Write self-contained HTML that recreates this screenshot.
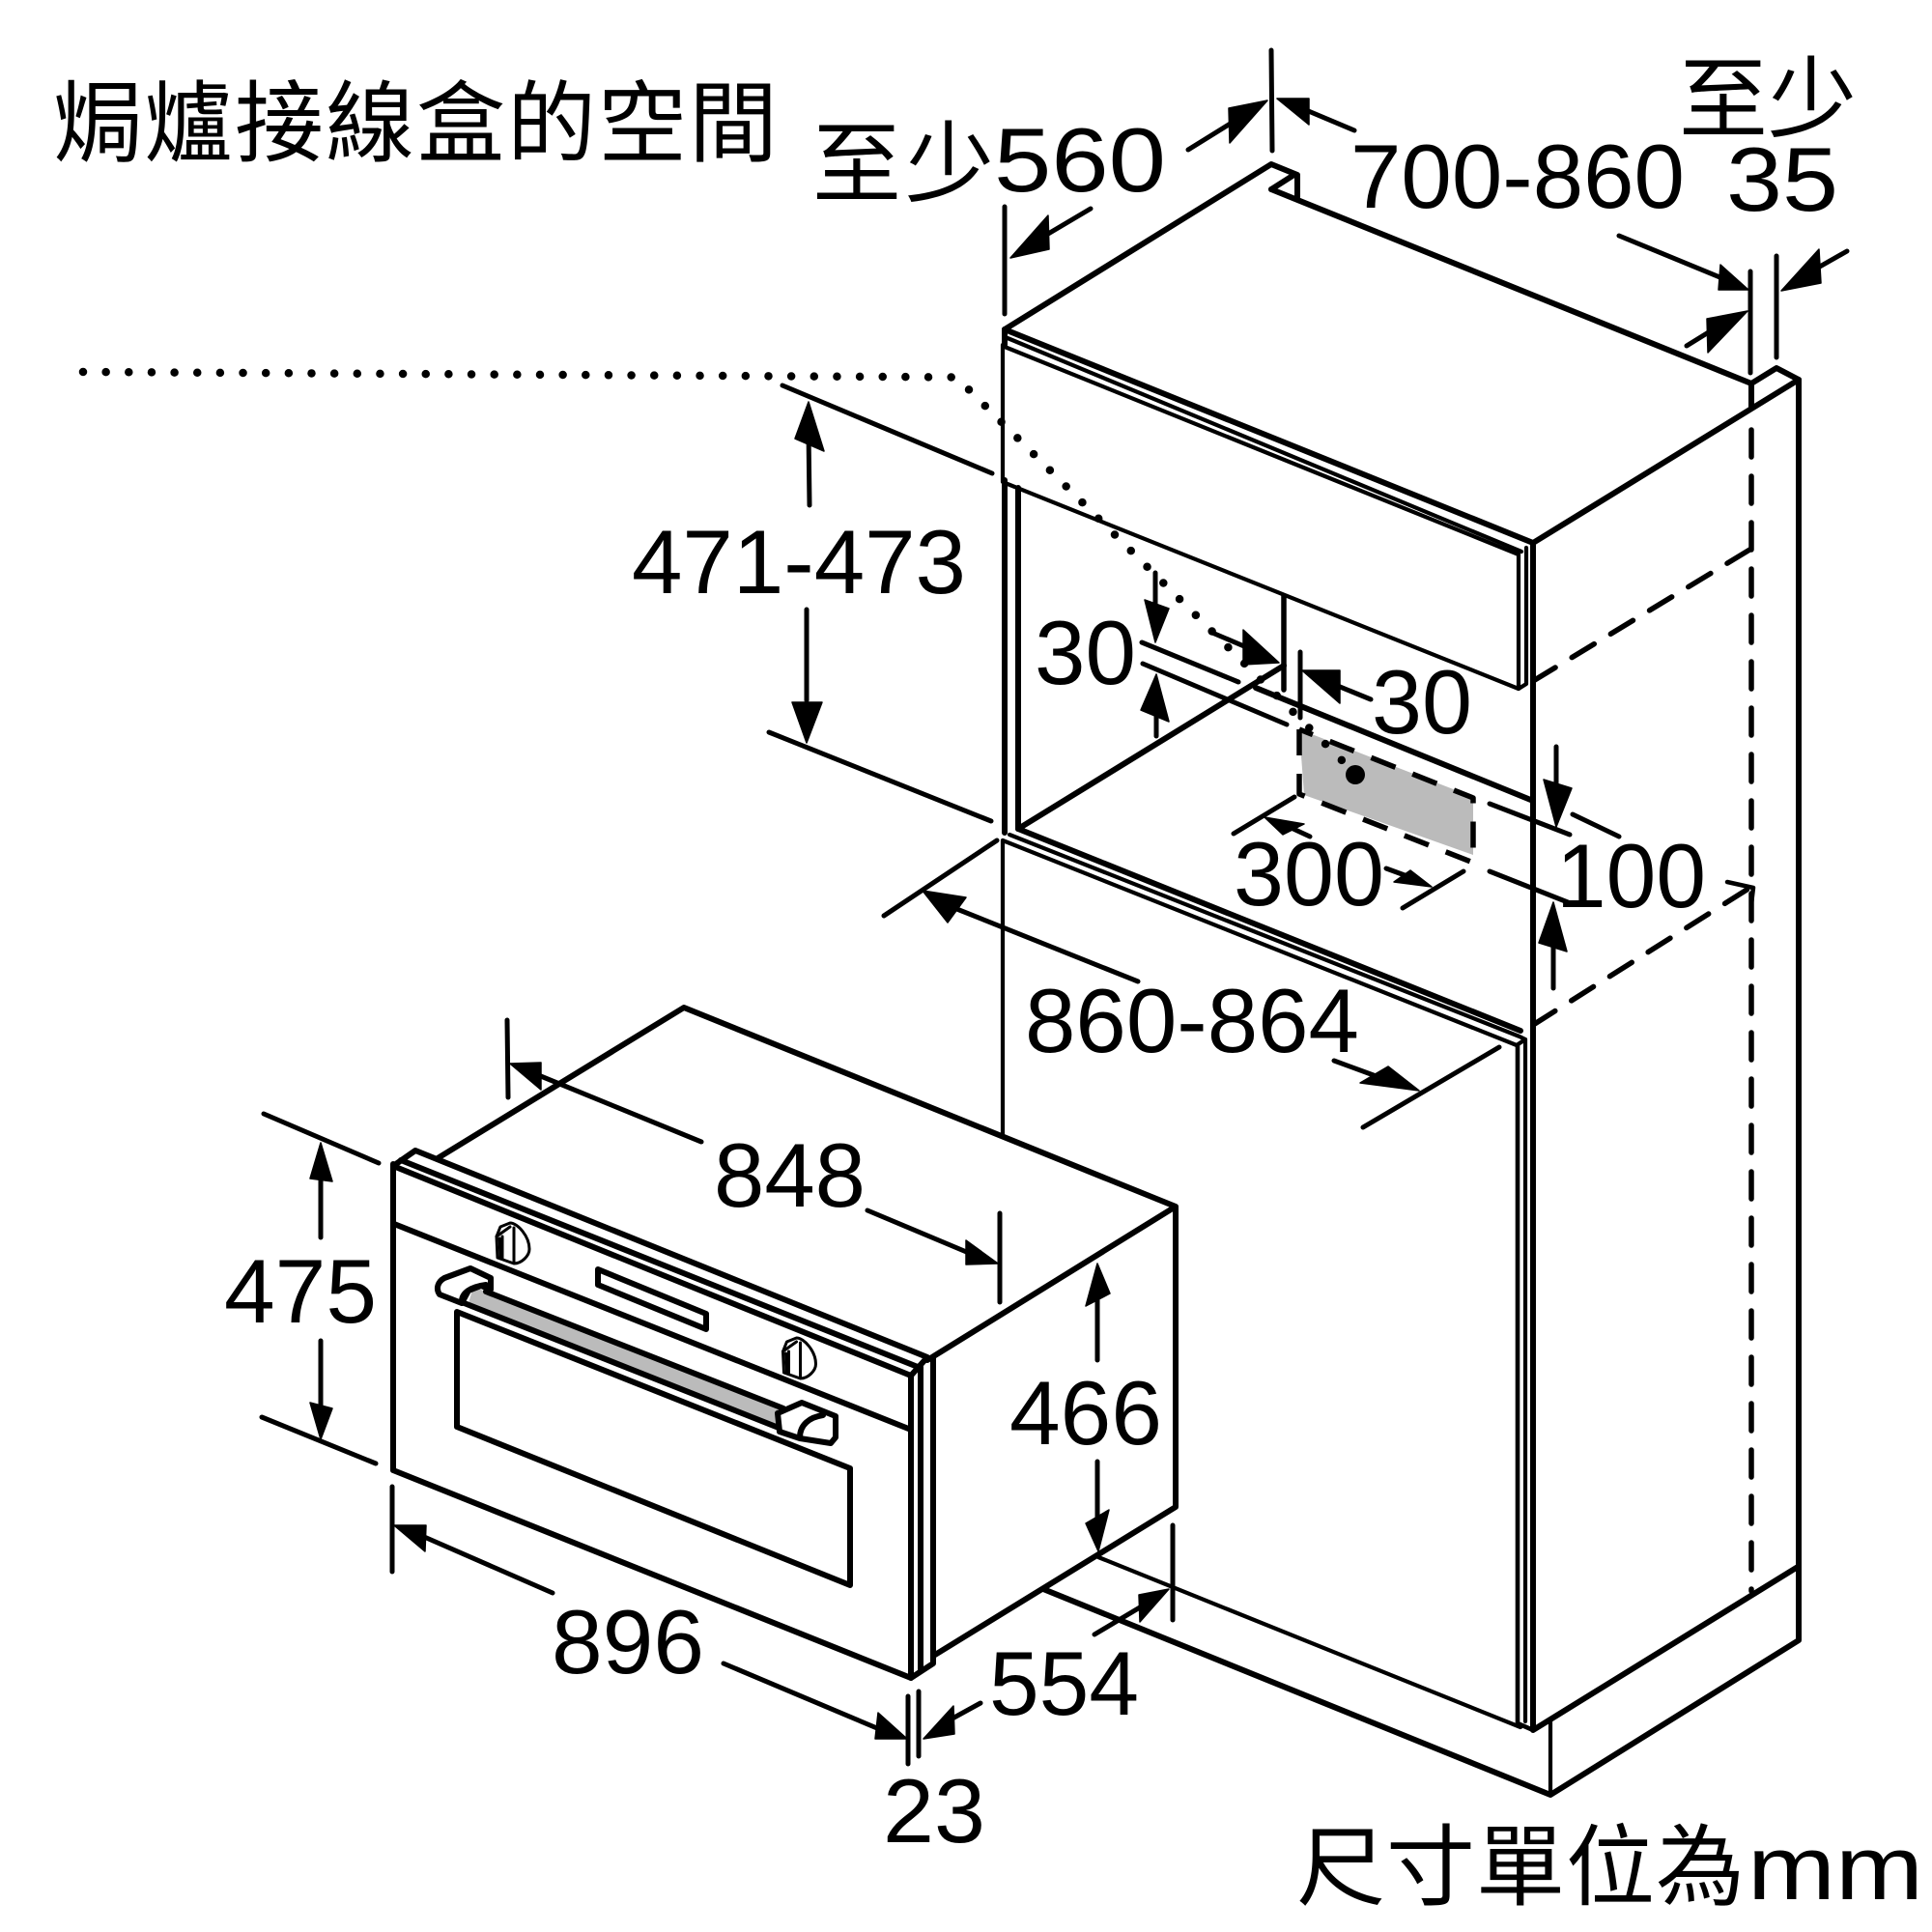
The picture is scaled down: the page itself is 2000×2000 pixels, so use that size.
<!DOCTYPE html>
<html><head><meta charset="utf-8"><style>
html,body{margin:0;padding:0;background:#fff}
svg{display:block}
text{font-family:"Liberation Sans","Noto Sans CJK TC",sans-serif;font-size:94px;fill:#000}
.c{font-family:"Noto Sans CJK TC","Liberation Sans",sans-serif;font-size:92px;font-weight:400}
.o{fill:none;stroke:#000;stroke-width:6;stroke-linecap:round;stroke-linejoin:round}
.t{fill:none;stroke:#000;stroke-width:4.2;stroke-linecap:round;stroke-linejoin:round}
.d{fill:none;stroke:#000;stroke-width:5;stroke-linecap:round;stroke-linejoin:round}
.h{fill:#000;stroke:#000;stroke-width:1.5;stroke-linejoin:round}
.s{fill:none;stroke:#000;stroke-width:5.5;stroke-linejoin:round;stroke-dasharray:27 19}
.k{fill:none;stroke:#000;stroke-width:3;stroke-linejoin:round;stroke-linecap:round}
</style></head><body>
<svg width="2000" height="2000" viewBox="0 0 2000 2000" xmlns="http://www.w3.org/2000/svg">
<rect width="2000" height="2000" fill="#fff"/>

<!-- cabinet -->
<g class="o">
<path d="M1040 341L1316 170L1343 181V204"/>
<path d="M1316 196L1338 182"/>
<path d="M1316 196L1813 397L1839 381L1862 393V1698L1605 1858L1080 1645"/>
<path d="M1813 397V422"/>
<path d="M1040 341L1587 562L1862 393"/>
<path d="M1587 562V1791L1861 1622"/>
<path d="M1040 341V357"/>
<path d="M1043 350L1575 571" stroke-width="4.2"/>
<path d="M1040 359L1572 574" stroke-width="4.2"/>
<path d="M1040 497V862M1054 505V858"/>
<path d="M1054 858L1329 689"/>
<path d="M1054 858L1574 1067"/>
<path d="M1300 712L1587 829"/>
<path d="M1572 574V713L1580 708V567" stroke-width="4.2"/>
<path d="M1571 1082V1784L1587 1791" stroke-width="4.6"/>
<path d="M1579 1076V1782" stroke-width="4.2"/>
<path d="M1045 864L1573 1073L1579 1076L1570 1082" stroke-width="4.2"/>
</g>
<g class="t">
<path d="M1038 357V499L1572 713"/>
<path d="M1329 617V714" stroke-width="5.500"/>
<path d="M1038 870V1175"/>
<path d="M1038 870L1570 1082"/>
<path d="M1137 1612L1574 1788"/>
<path d="M1605 1781V1858"/>
</g>
<!-- hidden dashed -->
<g class="s" stroke-linecap="round">
<path d="M1813 445V1647" stroke-dasharray="28 20"/>
<path d="M1587 705L1813 568" stroke-dasharray="27 20"/>
<path d="M1587 1061L1813 918" stroke-dasharray="27 20"/>
<path d="M1788 913L1815 919L1813 936" stroke-dasharray="none" stroke-width="4.500"/>
<path d="M1542 832L1625 864"  stroke-dasharray="none" stroke-width="5"/>
<path d="M1628 843L1676 866"  stroke-dasharray="none" stroke-width="5"/>
<path d="M1542 902L1628 936"  stroke-dasharray="none" stroke-width="5"/>
</g>
<!-- grey box -->
<polygon points="1345,755 1525,825 1525,885 1350,823" fill="#bbb"/>
<path class="s" d="M1345 755V822L1525 893V826L1345 755"/>
<!-- dotted -->
<path d="M86 385L990 390.500L1390 788" fill="none" stroke="#000" stroke-width="8.500" stroke-linecap="round" stroke-dasharray="0 23.650"/>
<circle cx="1403" cy="802" r="10"/>

<!-- oven -->
<polygon points="407,1205 430,1191 960,1405 966,1408 966,1722 943,1737 407,1522" fill="#fff"/>
<polygon points="453,1199 708,1043 1217,1249 1216,1560 968,1713 966,1408" fill="#fff"/>
<g class="o">
<path d="M407 1205V1522L943 1737V1424L407 1207L430 1191L960 1405L943 1424"/>
<path d="M415 1201L950 1415"/>
<path d="M953 1415V1728M966 1405V1722L943 1737"/>
<path d="M453 1199L708 1043L1217 1249V1560L968 1713M960 1408L1217 1249"/>
<path d="M408 1267L943 1480"/>
<path d="M473 1358L880 1520V1641L473 1477Z"/>
<path d="M619 1314L731 1360V1376L619 1330Z"/>
</g>
<!-- handle -->
<polygon points="490,1332 805,1456 805,1478 485,1349" fill="#bbb"/>
<path class="o" d="M503 1337L811 1458M478 1348L806 1478"/>
<path class="o" style="fill:#fff" d="M487 1313L508 1323V1335L498 1331L485 1336L478 1349L455 1340C451 1334 453 1327 460 1323Z"/>
<path class="o" d="M478 1349C477 1338 488 1332 503 1330"/>
<path class="o" style="fill:#fff" d="M805 1463L830 1452L865 1466V1488L860 1494L828 1489L807 1482Z"/>
<path class="o" d="M828 1488C828 1475 838 1467 852 1465"/>
<!-- knobs -->
<g>
<path class="k" d="M514 1280L518 1270L528 1266C536 1266 548 1280 548 1293C548 1300 540 1308 532 1308L515 1302Z" stroke-width="3.600"/>
<path class="k" d="M532 1271V1307M517 1282L518 1302M514 1280L528 1270M520 1280V1303"/>
</g>
<g transform="translate(296.500 119)">
<path class="k" d="M514 1280L518 1270L528 1266C536 1266 548 1280 548 1293C548 1300 540 1308 532 1308L515 1302Z" stroke-width="3.600"/>
<path class="k" d="M532 1271V1307M517 1282L518 1302M514 1280L528 1270M520 1280V1303"/>
</g>

<!-- dimension lines -->
<g class="d">
<path d="M1040 214V325M1129 216L1080 245"/>
<path d="M1230 155L1280 124M1316 52L1317 156M1402 135L1345 111"/>
<path d="M1676 244L1790 291M1812 281V386M1839 265V370M1912 260L1875 281M1746 358L1780 337"/>
<path d="M838 523L837 446M810 399L1027 490M835 631V725M796 758L1026 850"/>
<path d="M915 948L1032 870M1178 1016L978 936"/>
<path d="M1552 1084L1411 1167M1381 1098L1430 1116"/>
<path d="M1196 593V630M1182 665L1282 706M1183 687L1332 750M1197 762V730"/>
<path d="M1255 655L1295 672M1346 675V743M1419 724L1375 706"/>
<path d="M1340 825L1277 863M1515 902L1452 940M1356 866L1328 853M1435 899L1465 910"/>
<path d="M1611 773V815M1608 1023V975"/>
<path d="M525 1056L526 1136M726 1182L550 1110M898 1253L1010 1300M1035 1256V1348"/>
<path d="M273 1153L392 1204M271 1467L389 1515M332 1281V1215M332 1388V1460"/>
<path d="M406 1539V1627M572 1649L430 1587M749 1722L915 1792M940 1756V1826M951 1751V1818M1015 1763L975 1785"/>
<path d="M1136 1408V1340M1136 1513V1580M1214 1579V1677M1133 1692L1190 1658"/>
</g>
<!-- arrowheads -->
<g class="h">
<polygon points="1046,267 1085,223 1086,258"/>
<polygon points="1312,104 1272,112 1273,148"/>
<polygon points="1322,102 1355,102 1355,129"/>
<polygon points="1810,300 1781,274 1779,300"/>
<polygon points="1844,301 1883,258 1885,293"/>
<polygon points="1809,322 1767,330 1768,365"/>
<polygon points="837,416 823,454 853,467"/>
<polygon points="835,769 820,727 851,727"/>
<polygon points="955,922 1000,929 981,955"/>
<polygon points="1469,1129 1437,1104 1408,1121"/>
<polygon points="1196,665 1185,621 1210,630"/>
<polygon points="1197,698 1181,735 1210,747"/>
<polygon points="1324,686 1287,652 1287,688"/>
<polygon points="1348,694 1387,694 1387,728"/>
<polygon points="1309,846 1350,853 1328,864"/>
<polygon points="1482,918 1460,901 1443,913"/>
<polygon points="1611,856 1598,807 1627,816"/>
<polygon points="1608,934 1593,976 1622,985"/>
<polygon points="528,1101 560,1100 560,1128"/>
<polygon points="1033,1308 1000,1284 1000,1309"/>
<polygon points="332,1183 321,1220 344,1223"/>
<polygon points="332,1490 321,1452 344,1458"/>
<polygon points="408,1579 441,1579 440,1606"/>
<polygon points="939,1800 909,1773 906,1800"/>
<polygon points="956,1800 987,1766 988,1795"/>
<polygon points="1136,1308 1124,1352 1149,1339"/>
<polygon points="1137,1606 1124,1577 1148,1563"/>
<polygon points="1210,1645 1179,1651 1180,1679"/>
</g>

<!-- text -->
<text class="c" x="55" y="160" textLength="750">焗爐接線盒的空間</text>
<text class="c" x="841" y="202" textLength="188">至少</text>
<text x="1029" y="198" textLength="178" lengthAdjust="spacingAndGlyphs">560</text>
<text x="1398" y="215" textLength="346" lengthAdjust="spacingAndGlyphs">700-860</text>
<text x="1787" y="218" textLength="116" lengthAdjust="spacingAndGlyphs">35</text>
<text class="c" x="1738" y="135" textLength="184">至少</text>
<text x="654" y="614" textLength="346" lengthAdjust="spacingAndGlyphs">471-473</text>
<text x="1071" y="708" textLength="105" lengthAdjust="spacingAndGlyphs">30</text>
<text x="1420" y="759" textLength="104" lengthAdjust="spacingAndGlyphs">30</text>
<text x="1277" y="937" textLength="156" lengthAdjust="spacingAndGlyphs">300</text>
<text x="1611" y="939" textLength="155" lengthAdjust="spacingAndGlyphs">100</text>
<text x="1061" y="1089" textLength="346" lengthAdjust="spacingAndGlyphs">860-864</text>
<text x="739" y="1249" textLength="157" lengthAdjust="spacingAndGlyphs">848</text>
<text x="232" y="1369" textLength="158" lengthAdjust="spacingAndGlyphs">475</text>
<text x="1045" y="1495" textLength="158" lengthAdjust="spacingAndGlyphs">466</text>
<text x="571" y="1732" textLength="158" lengthAdjust="spacingAndGlyphs">896</text>
<text x="1024" y="1775" textLength="155" lengthAdjust="spacingAndGlyphs">554</text>
<text x="914" y="1907" textLength="106" lengthAdjust="spacingAndGlyphs">23</text>
<text class="c" x="1342" y="1965" textLength="464">尺寸單位為</text>
<text x="1809" y="1966" textLength="182" lengthAdjust="spacingAndGlyphs">mm</text>
</svg>
</body></html>
